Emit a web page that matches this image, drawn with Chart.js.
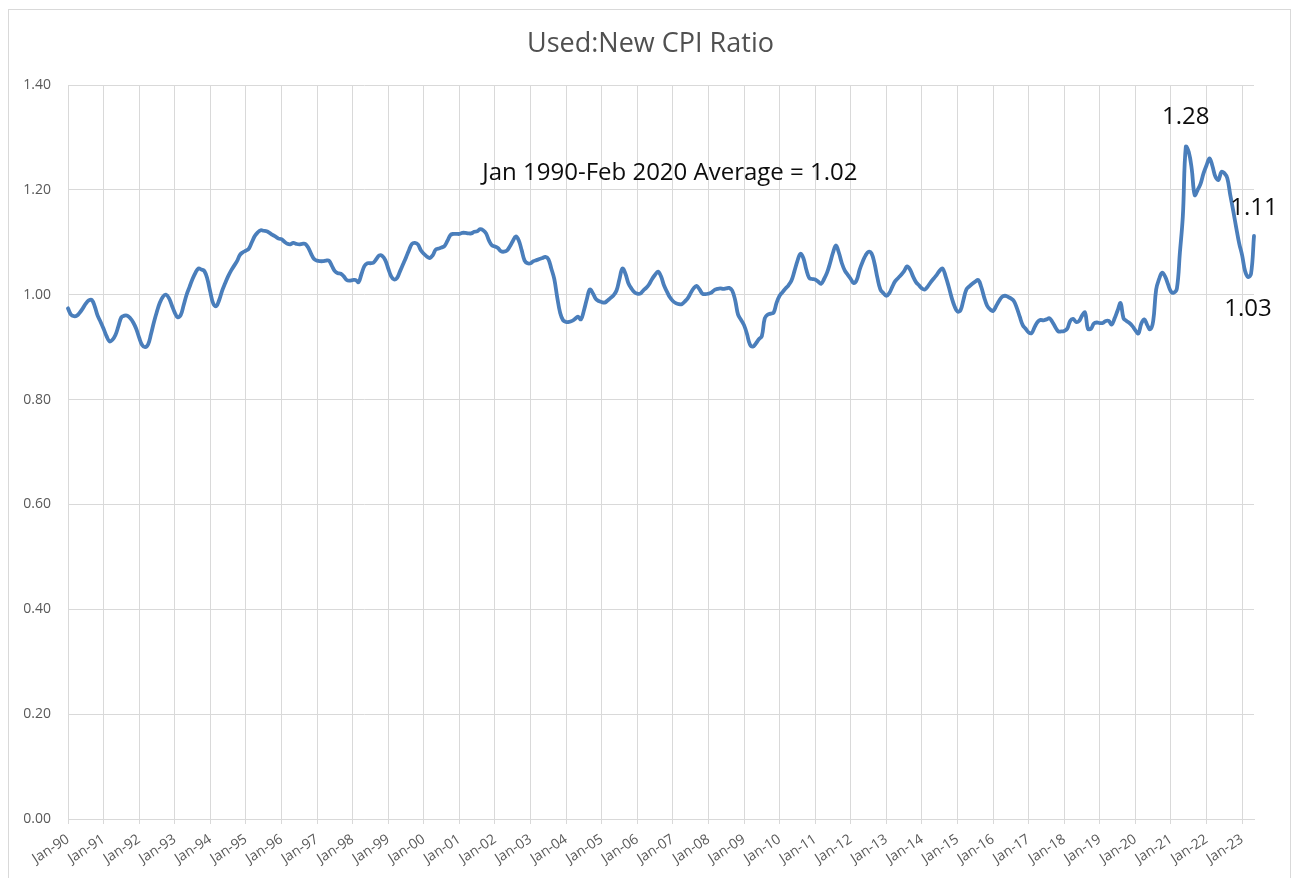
<!DOCTYPE html>
<html>
<head>
<meta charset="utf-8">
<script src="https://cdn.jsdelivr.net/npm/chart.js@4.4.1/dist/chart.umd.min.js"></script>
<style>
  html, body { margin: 0; padding: 0; background: #ffffff; }
  #wrap { position: relative; width: 1293px; height: 878px; overflow: hidden; }
  #frame { position: absolute; left: 8px; top: 9px; width: 1283px; height: 880px; border: 1px solid #d9d9d9; box-sizing: border-box; pointer-events: none; }
  canvas { position: absolute; left: 0; top: 0; }
</style>
</head>
<body>
<div id="wrap">
  <canvas id="c" width="1293" height="878"></canvas>
  <div id="frame"></div>
</div>
<script>
// ---- Data (monthly, Jan 1990 .. May 2023) ----
const startYear = 1990;
const monthNames = ['Jan','Feb','Mar','Apr','May','Jun','Jul','Aug','Sep','Oct','Nov','Dec'];
const ratio = [
  // 1990
  0.974,0.962,0.959,0.960,0.966,0.974,0.983,0.989,0.990,0.978,0.960,0.948,
  // 1991
  0.935,0.921,0.911,0.914,0.923,0.940,0.957,0.960,0.960,0.955,0.947,0.935,
  // 1992
  0.918,0.904,0.900,0.905,0.925,0.948,0.968,0.985,0.996,1.000,0.994,0.980,
  // 1993
  0.966,0.957,0.961,0.980,1.000,1.015,1.030,1.042,1.050,1.048,1.045,1.030,
  // 1994
  1.005,0.983,0.978,0.990,1.008,1.022,1.035,1.046,1.055,1.064,1.076,1.081,
  // 1995
  1.084,1.088,1.100,1.112,1.119,1.123,1.122,1.121,1.118,1.114,1.111,1.107,
  // 1996
  1.106,1.101,1.097,1.096,1.099,1.097,1.096,1.097,1.097,1.090,1.078,1.068,
  // 1997
  1.065,1.064,1.064,1.065,1.065,1.055,1.045,1.041,1.040,1.035,1.028,1.027,
  // 1998
  1.028,1.028,1.024,1.040,1.055,1.060,1.060,1.061,1.068,1.075,1.074,1.066,
  // 1999
  1.050,1.035,1.029,1.032,1.045,1.058,1.071,1.085,1.097,1.099,1.096,1.085,
  // 2000
  1.078,1.073,1.070,1.075,1.086,1.088,1.090,1.093,1.103,1.114,1.116,1.116,
  // 2001
  1.116,1.118,1.118,1.117,1.117,1.120,1.121,1.125,1.123,1.117,1.103,1.094,
  // 2002
  1.092,1.089,1.083,1.082,1.084,1.092,1.102,1.111,1.104,1.085,1.065,1.060,
  // 2003
  1.060,1.064,1.066,1.068,1.070,1.072,1.068,1.050,1.030,0.995,0.965,0.951,
  // 2004
  0.948,0.948,0.950,0.954,0.958,0.953,0.970,0.992,1.010,1.003,0.992,0.988,
  // 2005
  0.986,0.985,0.989,0.994,0.999,1.008,1.030,1.050,1.040,1.022,1.012,1.005,
  // 2006
  1.002,1.002,1.008,1.013,1.020,1.030,1.038,1.044,1.035,1.018,1.006,0.995,
  // 2007
  0.988,0.984,0.982,0.982,0.987,0.993,1.003,1.012,1.017,1.010,1.002,1.001,
  // 2008
  1.002,1.004,1.009,1.011,1.012,1.011,1.012,1.013,1.008,0.990,0.962,0.952,
  // 2009
  0.942,0.925,0.905,0.901,0.907,0.915,0.921,0.955,0.962,0.964,0.966,0.985,
  // 2010
  0.998,1.005,1.012,1.018,1.027,1.045,1.064,1.078,1.070,1.048,1.032,1.030,
  // 2011
  1.029,1.025,1.021,1.030,1.042,1.060,1.080,1.094,1.080,1.060,1.046,1.038,
  // 2012
  1.030,1.022,1.028,1.048,1.063,1.075,1.082,1.079,1.060,1.032,1.010,1.003,
  // 2013
  0.998,1.003,1.015,1.026,1.032,1.038,1.045,1.054,1.048,1.035,1.024,1.018,
  // 2014
  1.012,1.010,1.016,1.024,1.031,1.038,1.046,1.050,1.035,1.016,0.995,0.978,
  // 2015
  0.968,0.970,0.990,1.010,1.016,1.021,1.025,1.028,1.015,0.995,0.979,0.972,
  // 2016
  0.969,0.978,0.988,0.996,0.998,0.996,0.993,0.988,0.975,0.958,0.942,0.935,
  // 2017
  0.928,0.927,0.938,0.948,0.952,0.951,0.953,0.955,0.948,0.938,0.930,0.930,
  // 2018
  0.931,0.935,0.950,0.954,0.948,0.950,0.960,0.966,0.935,0.935,0.945,0.947,
  // 2019
  0.946,0.946,0.950,0.950,0.943,0.955,0.970,0.984,0.955,0.950,0.946,0.940,
  // 2020
  0.932,0.926,0.945,0.953,0.942,0.934,0.950,1.010,1.030,1.042,1.035,1.020,
  // 2021
  1.006,1.004,1.012,1.080,1.150,1.282,1.272,1.240,1.190,1.200,1.212,1.232,
  // 2022
  1.247,1.260,1.245,1.225,1.219,1.234,1.232,1.222,1.190,1.160,1.128,1.098,
  // 2023
  1.075,1.045,1.034,1.040,1.112
];
const yTicks = [0, 0.2, 0.4, 0.6, 0.8, 1.0, 1.2, 1.4];
const titleText = 'Used:New CPI Ratio';
const avgText = 'Jan 1990-Feb 2020 Average = 1.02';
const callouts = [
  { text: '1.28', index: 377, value: 1.282, dy: -30 },
  { text: '1.11', index: 400, value: 1.112, dy: -28 },
  { text: '1.03', index: 398, value: 1.034, dy: 32 }
];
const avgAnchor = { index: 203, value: 1.232 };

// labels built from the start year and data length
const labels = ratio.map((_, i) => {
  const y = startYear + Math.floor(i / 12);
  return monthNames[i % 12] + '-' + String(y % 100).padStart(2, '0');
});

const FONT = "'Open Sans', 'Noto Sans', sans-serif";
const GRID = '#d9d9d9';
const TXT = '#595959';

const annotationPlugin = {
  id: 'annot',
  afterDraw(chart) {
    const { ctx, scales: { x, y } } = chart;
    ctx.save();
    ctx.textAlign = 'center';
    ctx.textBaseline = 'middle';
    // chart title
    ctx.fillStyle = '#505050';
    ctx.font = "500 27px " + FONT;
    ctx.fillText(titleText, chart.width / 2 + 4, 44);
    // annotations
    ctx.fillStyle = '#0d0d0d';
    ctx.font = "500 24px " + FONT;
    ctx.fillText(avgText, x.getPixelForValue(avgAnchor.index), y.getPixelForValue(avgAnchor.value));
    callouts.forEach(c => {
      ctx.fillText(c.text, x.getPixelForValue(c.index), y.getPixelForValue(c.value) + c.dy);
    });
    ctx.restore();
  }
};

new Chart(document.getElementById('c'), {
  type: 'line',
  data: {
    labels: labels,
    datasets: [{
      data: ratio,
      borderColor: '#4a7ebb',
      borderWidth: 3.8,
      pointRadius: 0,
      tension: 0.4,
      fill: false,
      borderCapStyle: 'round',
      borderJoinStyle: 'round'
    }]
  },
  options: {
    responsive: false,
    animation: false,
    devicePixelRatio: 1,
    layout: { padding: { left: 0, right: 39, top: 85, bottom: 0 } },
    plugins: {
      legend: { display: false },
      tooltip: { enabled: false },
      title: { display: false }
    },
    scales: {
      x: {
        type: 'category',
        offset: false,
        grid: {
          color: (c) => (c.index % 12 === 0 ? GRID : 'rgba(0,0,0,0)'),
          tickLength: 5,
          lineWidth: 1
        },
        border: { display: true, color: GRID },
        ticks: {
          autoSkip: false,
          minRotation: 33,
          maxRotation: 33,
          padding: 7,
          color: TXT,
          font: { family: FONT, size: 14 },
          callback: function (v, i) { return i % 12 === 0 ? this.getLabelForValue(v) : ''; }
        },
        afterFit: (s) => { s.height = 59; }
      },
      y: {
        min: 0,
        max: 1.4,
        afterBuildTicks: (s) => { s.ticks = yTicks.map(v => ({ value: v })); },
        ticks: {
          padding: 17,
          color: TXT,
          font: { family: FONT, size: 14 },
          callback: (v) => Number(v).toFixed(2)
        },
        grid: { color: GRID, drawTicks: false, lineWidth: 1 },
        border: { display: false },
        afterFit: (s) => { s.width = 68; }
      }
    }
  },
  plugins: [annotationPlugin]
});
</script>
</body>
</html>
